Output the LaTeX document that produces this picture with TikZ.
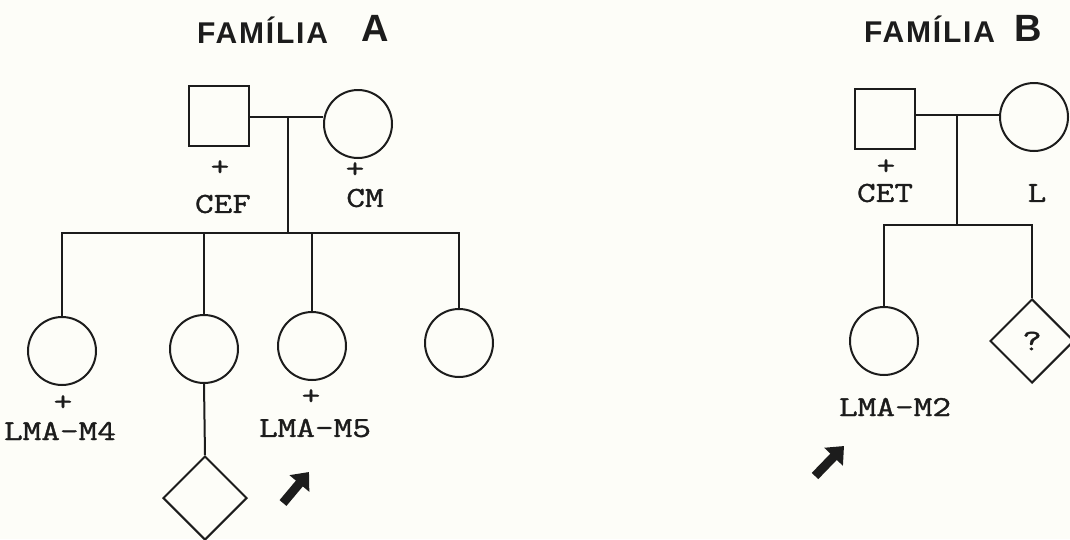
\documentclass[tikz,border=0pt]{standalone}
\usepackage{fontspec}
\usetikzlibrary{shapes.geometric,arrows.meta}
\newfontfamily\famfontfamily[LetterSpace=6]{Liberation Sans}
\newfontfamily\letfontfamily{Liberation Sans}
\newfontfamily\typfamily[FakeStretch=1.25,FakeBold=1.2]{Latin Modern Mono}
\newcommand\famfont{\famfontfamily\bfseries\fontsize{30}{36}\selectfont}
\newcommand\letfont{\letfontfamily\bfseries\fontsize{38}{44}\selectfont}
\newcommand\lblfont{\typfamily\fontsize{29}{34}\selectfont}
\newcommand\qfont{\typfamily\fontsize{30}{34}\selectfont}
\definecolor{ink}{RGB}{28,28,28}
\definecolor{paper}{RGB}{253,253,248}
\begin{document}
\begin{tikzpicture}[x=1pt,y=-1pt,
  line/.style={draw=ink, line width=2pt},
  male/.style={draw=ink, line width=2pt, rectangle, minimum width=60pt, minimum height=60pt, inner sep=0pt},
  female/.style={draw=ink, line width=2pt, circle, minimum size=68pt, inner sep=0pt},
  unknown/.style={draw=ink, line width=2pt, diamond, aspect=1, minimum size=84pt, inner sep=0pt, font=\qfont, text=ink},
  lbl/.style={font=\lblfont, text=ink, inner sep=0pt},
  ttl/.style={font=\famfont, text=ink, inner sep=0pt, anchor=base west},
  big/.style={font=\letfont, text=ink, inner sep=0pt, anchor=base west},
  proband/.style={draw=ink, line width=9pt, -{Triangle[length=15pt,width=25pt]}}
]
\fill[paper] (0,0) rectangle (1070,539);
\useasboundingbox (0,0) rectangle (1070,539);

% ---------- Family A ----------
\node[ttl] (tA) at (197,43) {FAMÍLIA};
\node[big] (tAl) at (361,41) {A};

\node[male] (fA) at (219,116) {};
\node[female] (mA) at (358,124) {};
\coordinate (mzA) at (288,117);
\draw[line] (fA.east |- mzA) -- (mzA) -- (mzA -| mA.west);
\node[lbl] (pfA) at (220,168) {+};
\node[lbl] (nfA) at (223,204) {CEF};
\node[lbl] (pmA) at (355,170) {+};
\node[lbl] (nmA) at (365,198) {CM};

\coordinate (sibA) at (288,233);
\draw[line] (mzA) -- (sibA);

\node[female] (c1) at (62,351) {};
\node[female] (c2) at (204,349) {};
\node[female] (c3) at (312,346) {};
\node[female] (c4) at (459,343) {};
\draw[line] (c1.north) -- (c1.north |- sibA) -- (c4.north |- sibA) -- (c4.north);
\draw[line] (c2.north) -- (c2.north |- sibA);
\draw[line] (c3.north) -- (c3.north |- sibA);

\node[lbl] (p1) at (63,403) {+};
\node[lbl] (n1) at (60,431) {LMA-M4};
\node[lbl] (p3) at (311,397) {+};
\node[lbl] (n3) at (315,428) {LMA-M5};

\node[unknown] (dA) at (205,498) {};
\draw[line] (c2.south) -- (dA.north);

\coordinate (arA1) at (283,503);
\coordinate (arA2) at (309,472);
\draw[proband] (arA1) -- (arA2);

% ---------- Family B ----------
\node[ttl] (tB) at (864,42) {FAMÍLIA};
\node[big] (tBl) at (1014,41) {B};

\node[male] (fB) at (885,119) {};
\node[female] (mB) at (1034,117) {};
\coordinate (mzB) at (957,115);
\draw[line] (fB.east |- mzB) -- (mzB) -- (mzB -| mB.west);
\node[lbl] (pfB) at (886,167) {+};
\node[lbl] (nfB) at (885,193) {CET};
\node[lbl] (nmB) at (1037,193) {L};

\coordinate (sibB) at (957,225);
\draw[line] (mzB) -- (sibB);

\node[female] (cB) at (884,341) {};
\node[unknown] (dB) at (1032,341) {?};
\draw[line] (cB.north) -- (cB.north |- sibB) -- (dB.north |- sibB) -- (dB.north);

\node[lbl] (nB) at (895,407) {LMA-M2};

\coordinate (arB1) at (815,476);
\coordinate (arB2) at (844,446);
\draw[proband] (arB1) -- (arB2);
\end{tikzpicture}
\end{document}
